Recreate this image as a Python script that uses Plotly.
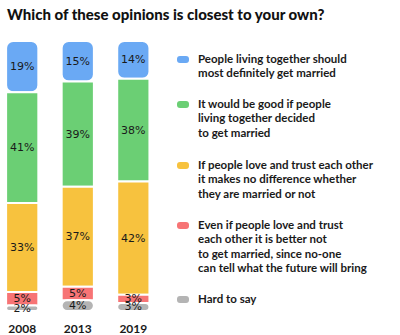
import plotly.graph_objects as go

# Survey data: share of respondents (%) per year, in legend order
years = ["2008", "2013", "2019"]
opinions = [
    "People living together should<br>most definitely get married",
    "It would be good if people<br>living together decided<br>to get married",
    "If people love and trust each other<br>it makes no difference whether<br>they are married or not",
    "Even if people love and trust<br>each other it is better not<br>to get married, since no-one<br>can tell what the future will bring",
    "Hard to say",
]
should_marry = [19, 15, 14]
good_to_marry = [41, 39, 38]
no_difference = [33, 37, 42]
better_not = [5, 5, 3]
hard_to_say = [2, 4, 3]

series = [should_marry, good_to_marry, no_difference, better_not, hard_to_say]
colors = ["#6aa9f4", "#6bcf74", "#f7c23e", "#f77475", "#b4b4b4"]

TEXT_FONT = "Lato"
W, H = 400, 335
BOTTOM = 15
PLOT_H = H - BOTTOM


def py(pixel_y):
    """paper y for a pixel row measured from the top of the figure"""
    return 1 - pixel_y / PLOT_H


fig = go.Figure()

# stack from the bottom ("Hard to say") upward; each segment gets an explicit base
n = len(years)
running = [0.0] * n
bases = [None] * len(series)
for idx in range(len(series) - 1, -1, -1):
    bases[idx] = list(running)
    running = [running[k] + series[idx][k] for k in range(n)]

for idx, vals in enumerate(series):
    last = idx == len(series) - 1
    first = idx == 0
    if last:
        # drawn downward so the rounded end sits at the bottom of the stack
        y = [-v for v in vals]
        base = [b + v for b, v in zip(bases[idx], vals)]
    else:
        y = list(vals)
        base = bases[idx]
    fig.add_trace(go.Bar(
        x=years, y=y, base=base,
        width=0.58,
        marker=dict(color=colors[idx], line=dict(color="white", width=2),
                    cornerradius=7 if (first or last) else 0),
        text=[f"{v}%" for v in vals],
        textposition="inside", insidetextanchor="middle",
        textfont=dict(family="DejaVu Sans", size=11, color="#1a1a1a"),
        constraintext="none",
        cliponaxis=False,
        showlegend=False, hoverinfo="skip",
        name=opinions[idx].replace("<br>", " "),
    ))

# legend: rounded swatches plus multi-line labels
legend_top = [58, 103, 164, 224, 298]
line_h = 14.5
for idx, label in enumerate(opinions):
    r = 3
    w, h = 12, 7
    path = (f"M {-w/2 + r},{h/2} L {w/2 - r},{h/2} Q {w/2},{h/2} {w/2},{h/2 - r} "
            f"L {w/2},{-h/2 + r} Q {w/2},{-h/2} {w/2 - r},{-h/2} "
            f"L {-w/2 + r},{-h/2} Q {-w/2},{-h/2} {-w/2},{-h/2 + r} "
            f"L {-w/2},{h/2 - r} Q {-w/2},{h/2} {-w/2 + r},{h/2} Z")
    fig.add_shape(type="path", xref="paper", yref="paper",
                  xsizemode="pixel", ysizemode="pixel",
                  xanchor=183 / W, yanchor=py(legend_top[idx] + 1.5),
                  path=path, fillcolor=colors[idx], line=dict(width=0))
    for j, line in enumerate(label.split("<br>")):
        fig.add_annotation(
            xref="paper", yref="paper",
            x=196 / W, y=py(legend_top[idx] + j * line_h),
            xanchor="left", yanchor="middle", showarrow=False,
            text=line, align="left",
            font=dict(family=TEXT_FONT, size=11.5, color="#1a1a1a", weight=700),
        )

fig.update_layout(
    width=W, height=H,
    margin=dict(l=0, r=0, t=0, b=BOTTOM),
    plot_bgcolor="white", paper_bgcolor="white",
    barmode="overlay",
    uniformtext=dict(minsize=11, mode="show"),
    title=dict(text="Which of these opinions is closest to your own?",
               x=7 / W, xanchor="left", xref="container",
               y=1 - 15 / H, yanchor="middle", yref="container",
               font=dict(family=TEXT_FONT, size=15, color="#111111", weight=900)),
    xaxis=dict(type="category", range=[-0.4, 6.8], showgrid=False, zeroline=False,
               showline=False, ticks="", automargin=False,
               tickfont=dict(family=TEXT_FONT, size=12, color="#1a1a1a", weight=700)),
    yaxis=dict(range=[-(PLOT_H - 311) / 2.7, 100 + 41 / 2.7],
               visible=False, showgrid=False, zeroline=False),
    showlegend=False,
)

fig.write_html("out.html")
